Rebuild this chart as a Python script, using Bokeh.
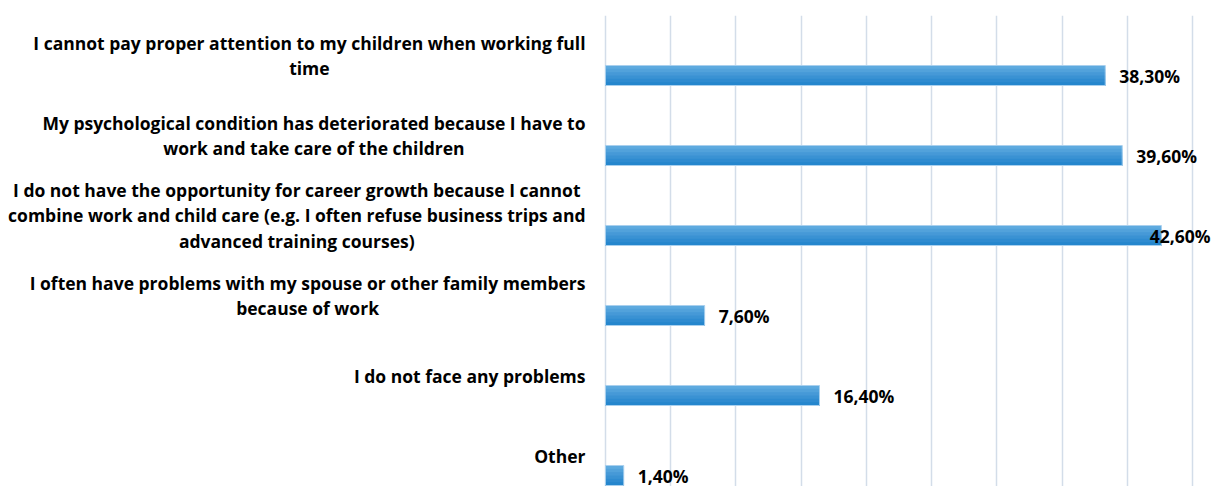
import numpy as np
from bokeh.plotting import figure
from bokeh.models import Range1d, FixedTicker, ColumnDataSource
from bokeh.core.properties import value
from bokeh.embed import file_html
from bokeh.resources import INLINE

categories = [
    "I cannot pay proper attention to my children when working full\ntime",
    "My psychological condition has deteriorated because I have to\nwork and take care of the children",
    "I do not have the opportunity for career growth because I cannot\ncombine work and child care (e.g. I often refuse business trips and\nadvanced training courses)",
    "I often have problems with my spouse or other family members\nbecause of work",
    "I do not face any problems",
    "Other",
]
values = [38.3, 39.6, 42.6, 7.6, 16.4, 1.4]
value_labels = ["38,30%", "39,60%", "42,60%", "7,60%", "16,40%", "1,40%"]
grid_ticks = [0, 5, 10, 15, 20, 25, 30, 35, 40, 45]

W, H = 1211, 486
FONT = "Open Sans"
FSIZE = "17.5px"

x_start, x_end = -46.36, 46.44
p = figure(width=W, height=H, output_backend="svg", toolbar_location=None,
           x_range=Range1d(x_start, x_end), y_range=Range1d(5.3875, -0.5),
           min_border_left=0, min_border_right=0, min_border_top=15,
           min_border_bottom=0)
p.outline_line_color = None
p.background_fill_color = "white"
p.border_fill_color = "white"
p.xaxis.visible = False
p.yaxis.visible = False
p.ygrid.grid_line_color = None
p.xgrid.ticker = FixedTicker(ticks=grid_ticks)
p.xgrid.grid_line_color = "#d3dde9"
p.xgrid.grid_line_width = 1.5

n = len(categories)
idx = np.arange(n)
vals = np.array(values)
bar_y = idx + 0.25
bar_h = 0.25
bar_top = bar_y - bar_h / 2
bar_bot = bar_y + bar_h / 2

# bars with a vertical gradient (lighter top -> darker bottom), nested layers
grad = ["#5eaadf", "#52a2db", "#4699d7", "#3a92d3", "#2f8bd0", "#2586cd"]
k = len(grad)
for j, c in enumerate(grad):
    p.quad(left=np.zeros(n), right=vals, top=bar_top + bar_h * j / k,
           bottom=bar_bot, fill_color=c, line_color=None)
p.quad(left=np.zeros(n), right=vals, top=bar_top, bottom=bar_bot,
       fill_color=None, line_color="#a9d0ee", line_width=1)

# category labels
p.text(x=np.zeros(n), y=idx.astype(float), text=categories, x_offset=-20,
       text_align="center", anchor=value("center_right"),
       text_baseline="middle", text_font=value(FONT), text_font_style="bold",
       text_font_size=FSIZE, text_line_height=1.05, text_color="#000000")

# value labels
overflow = vals + 6.0 > x_end
lx = np.where(overflow, x_end, vals)
laln = ["right" if o else "left" for o in overflow]
loff = [-1 if o else 14 for o in overflow]
src = ColumnDataSource(dict(x=lx, y=bar_y, t=value_labels, a=laln, o=loff))
p.text(x="x", y="y", text="t", x_offset="o", text_align="a", source=src,
       text_baseline="middle", text_font=value(FONT), text_font_style="bold",
       text_font_size=FSIZE, text_color="#000000")

open("out.html", "w").write(file_html(p, INLINE))
